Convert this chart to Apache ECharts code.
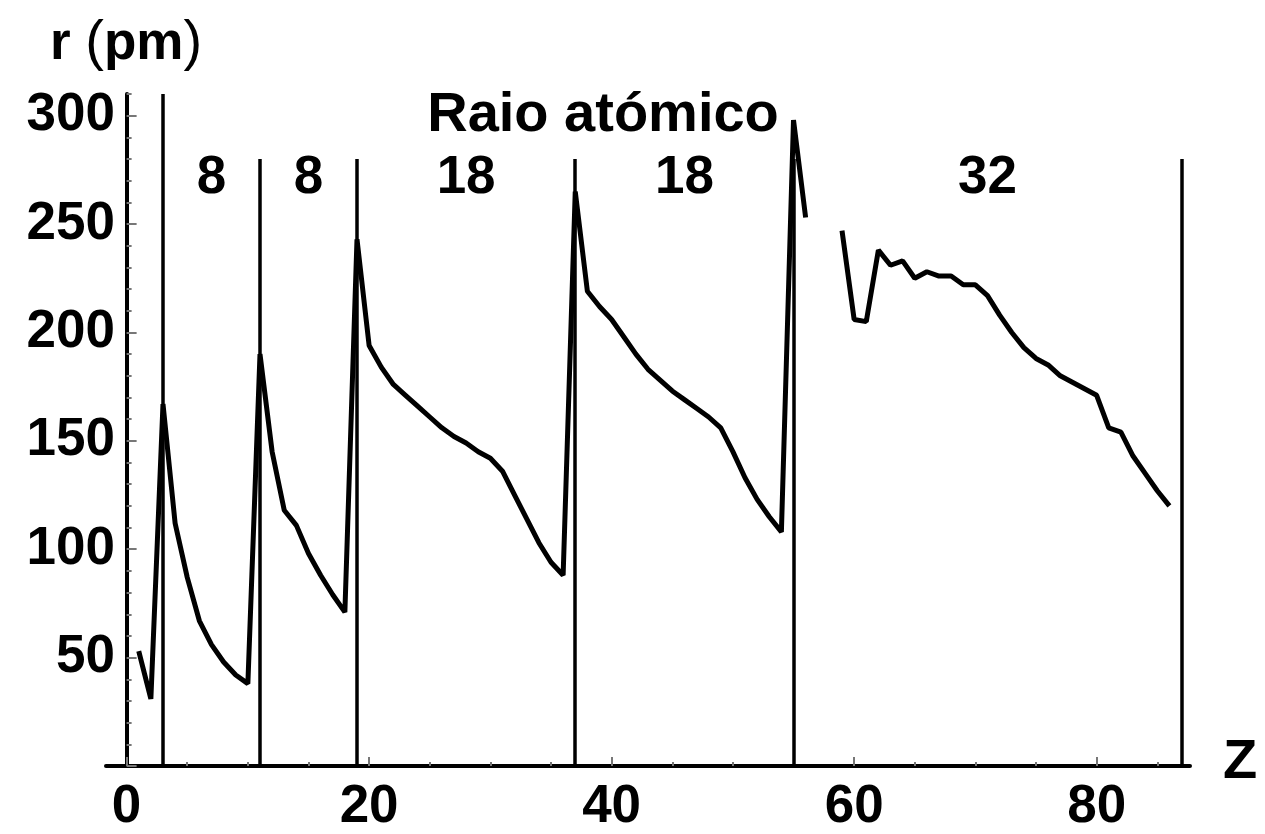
<!DOCTYPE html>
<html>
<head>
<meta charset="UTF-8">
<title>Raio atómico</title>
<script src="https://cdn.jsdelivr.net/npm/echarts@6/dist/echarts.min.js"></script>
<style>
  html, body { margin: 0; padding: 0; background: #fff; }
  #main { width: 1265px; height: 834px; }
</style>
</head>
<body>
<div id="main"></div>
<script>
// atomic radius (pm) for Z = 1..86, lanthanum and cerium missing
var radius = [53, 31, 167, 112, 87, 67, 56, 48, 42, 38,
  190, 145, 118, 111, 98, 88, 79, 71,
  243, 194, 184, 176, 171, 166, 161, 156, 152, 149, 145, 142, 136, 125, 114, 103, 94, 88,
  265, 219, 212, 206, 198, 190, 183, 178, 173, 169, 165, 161, 156, 145, 133, 123, 115, 108,
  298, 253, null, null, 247, 206, 205, 238, 231, 233, 225, 228, 226, 226, 222, 222, 217,
  208, 200, 193, 188, 185, 180, 177, 174, 171, 156, 154, 143, 135, 127, 120];

// period boundaries (vertical lines) and their top value
var boundaryZ = [3, 11, 19, 37, 55, 87];
var boundaryTop = [310, 280, 280, 280, 280, 280];

// period sizes written between the lines
var periodLabelZ = [7, 15, 28, 46, 71];
var periodLabelText = ['8', '8', '18', '18', '32'];
var periodLabelY = 271;

var xMajorTicks = [0, 20, 40, 60, 80];
var xMinorTicks = [5, 10, 15, 25, 30, 35, 45, 50, 55, 65, 70, 75, 85];
var yMajorTicks = [0, 50, 100, 150, 200, 250, 300];
var yLabels = [50, 100, 150, 200, 250, 300];
var yMinorTicks = [10, 20, 30, 40, 60, 70, 80, 90, 110, 120, 130, 140, 160, 170, 180, 190,
  210, 220, 230, 240, 260, 270, 280, 290, 310];

var FONT = '"Liberation Sans", Arial, sans-serif';
var tickColor = '#777';

var lineData = radius.map(function (r, i) { return [i + 1, r]; });
var markLines = boundaryZ.map(function (z, i) {
  return [{ coord: [z, 0] }, { coord: [z, boundaryTop[i]] }];
});
var labelData = periodLabelZ.map(function (z, i) {
  return { value: [z, periodLabelY], name: periodLabelText[i] };
});

var chart = echarts.init(document.getElementById('main'));

var option = {
  animation: false,
  backgroundColor: '#fff',
  grid: { left: 106, right: 75, top: 94, bottom: 68 },
  xAxis: [{
    type: 'value', min: -1.7, max: 87.7, position: 'bottom',
    axisLine: { lineStyle: { color: '#000', width: 4 } },
    axisTick: { inside: true, length: 9, customValues: xMajorTicks, lineStyle: { color: tickColor, width: 2 } },
    axisLabel: { customValues: xMajorTicks, margin: 15, fontSize: 53, fontWeight: 'bold', color: '#000', fontFamily: FONT },
    splitLine: { show: false }
  }, {
    type: 'value', min: -1.7, max: 87.7, position: 'bottom',
    axisLine: { show: false },
    axisTick: { inside: true, length: 4, customValues: xMinorTicks, lineStyle: { color: tickColor, width: 2 } },
    axisLabel: { show: false },
    splitLine: { show: false }
  }],
  yAxis: [{
    type: 'value', min: 0, max: 310, position: 'left',
    axisLine: { show: true, onZero: true, onZeroAxisIndex: 0, lineStyle: { color: '#000', width: 4 } },
    axisTick: { show: true, inside: true, length: 10, customValues: yMajorTicks, lineStyle: { color: tickColor, width: 2 } },
    // labels stay at the grid edge, so pull them towards the axis line at Z = 0
    axisLabel: { customValues: yLabels, margin: -9, fontSize: 53, fontWeight: 'bold', color: '#000', fontFamily: FONT },
    splitLine: { show: false }
  }, {
    type: 'value', min: 0, max: 310, position: 'left',
    axisLine: { show: false, onZero: true, onZeroAxisIndex: 0 },
    axisTick: { show: true, inside: true, length: 5, customValues: yMinorTicks, lineStyle: { color: tickColor, width: 2 } },
    axisLabel: { show: false },
    splitLine: { show: false }
  }],
  graphic: [
    { type: 'text', x: 50, y: 16, style: {
        text: '{b|r }{n|(}{b|pm}{n|)}',
        rich: {
          b: { fontSize: 53, fontWeight: 'bold', fontFamily: FONT, fill: '#000' },
          n: { fontSize: 56, fontWeight: 'normal', fontFamily: FONT, fill: '#000' }
        }
      } },
    { type: 'text', x: 603, y: 88, style: {
        text: 'Raio atómico', font: 'bold 56px ' + FONT, fill: '#000', align: 'center', verticalAlign: 'top' } },
    { type: 'text', x: 1240, y: 735, style: {
        text: 'Z', font: 'bold 56px ' + FONT, fill: '#000', align: 'center', verticalAlign: 'top' } }
  ],
  series: [{
    name: 'r',
    type: 'line',
    xAxisIndex: 0, yAxisIndex: 0,
    data: lineData,
    showSymbol: false,
    connectNulls: false,
    lineStyle: { color: '#000', width: 5, join: 'bevel' },
    markLine: {
      silent: true,
      symbol: 'none',
      label: { show: false },
      lineStyle: { color: '#000', width: 3.5, type: 'solid' },
      data: markLines
    }
  }, {
    name: 'periods',
    type: 'scatter',
    xAxisIndex: 0, yAxisIndex: 0,
    symbolSize: 0,
    itemStyle: { opacity: 1 },
    data: labelData,
    label: {
      show: true, position: 'inside', formatter: '{b}',
      fontSize: 53, fontWeight: 'bold', color: '#000', fontFamily: FONT
    }
  }]
};

chart.setOption(option);
</script>
</body>
</html>
